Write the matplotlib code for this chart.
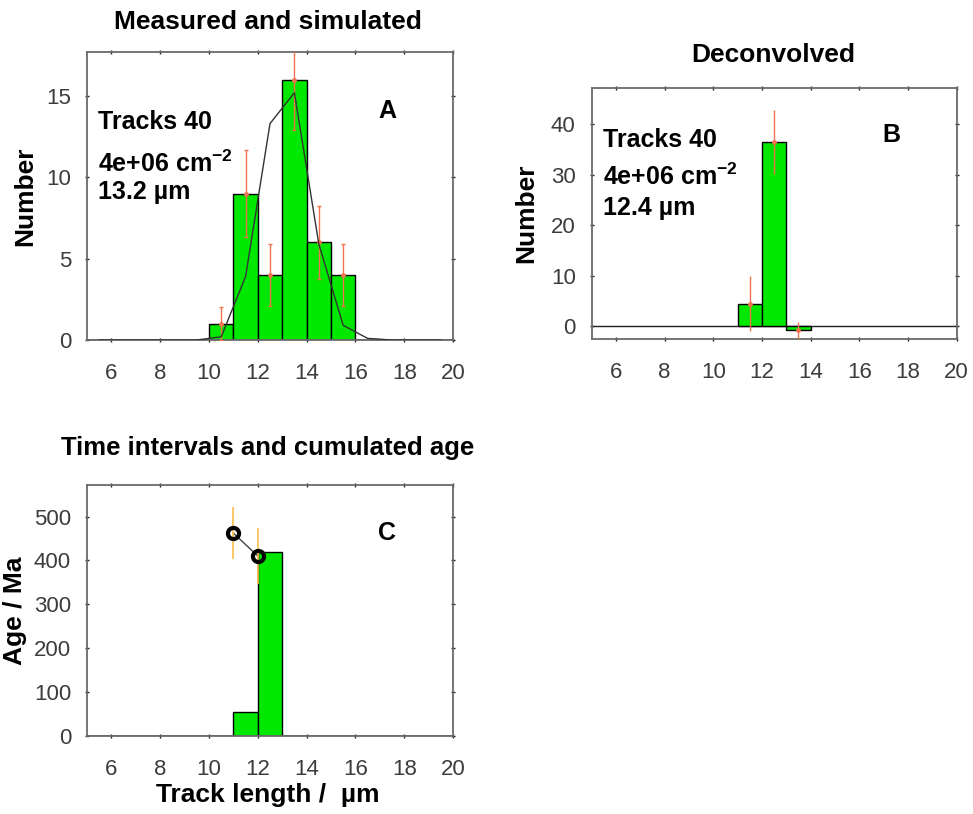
import matplotlib
matplotlib.use("Agg")
import matplotlib.pyplot as plt
import numpy as np

plt.rcParams['font.family'] = ['Liberation Sans', 'DejaVu Sans']
plt.rcParams['mathtext.fontset'] = 'custom'
plt.rcParams['mathtext.rm'] = 'Liberation Sans'
plt.rcParams['mathtext.bf'] = 'Liberation Sans:bold'

# measured length histogram (1 um bins, left edges)
meas_left = [10, 11, 12, 13, 14, 15]
meas_count = [1, 9, 4, 16, 6, 4]
meas_err = [1.0, 2.65, 1.9, 3.1, 2.25, 1.9]

# simulated distribution at bin centres
sim_len = [5.5, 6.5, 7.5, 8.5, 9.5, 10.5, 11.5, 12.5, 13.5, 14.5, 15.5, 16.5, 17.5, 18.5, 19.5]
sim_count = [0, 0, 0, 0, 0, 0.2, 3.9, 13.3, 15.2, 5.9, 0.9, 0.1, 0, 0, 0]

# deconvolved histogram
dec_left = [11, 12, 13]
dec_count = [4.4, 36.5, -0.9]
dec_err = [5.5, 6.4, 1.6]

# time intervals and cumulated age
int_left = [11, 12]
int_age = [53, 420]
cum_len = [11, 12]
cum_age = [462, 410]
cum_err = [59, 63]

info_tracks = "Tracks 40"
info_density = r"4e+06 cm$^{\mathbf{-2}}$"
mean_meas = "13.2 µm"
mean_dec = "12.4 µm"

green = '#00e800'
err_red = '#f2744f'
err_orange = '#fbbf4a'
spine_col = '#6a6a6a'
tick_col = '#3c3c3c'

TICK_FS = 16
LABEL_FS = 19
INFO_FS = 18


def style(ax, ylim, yticks):
    ax.set_xlim(5, 20)
    ax.set_ylim(*ylim)
    ax.set_xticks(np.arange(6, 21, 2))
    ax.set_yticks(yticks)
    ax.tick_params(direction='inout', length=3, width=1, top=True, right=True,
                   labelsize=TICK_FS, labelcolor=tick_col, color='#222222')
    ax.tick_params(axis='x', pad=15)
    ax.tick_params(axis='y', pad=10)
    for s in ax.spines.values():
        s.set_color(spine_col)
        s.set_linewidth(1.3)


def info(ax, x, ys, lines):
    for y, s in zip(ys, lines):
        ax.text(x, y, s, fontsize=INFO_FS, fontweight='bold', va='center')


fig = plt.figure(figsize=(9.73, 8.14), dpi=100)
axA = fig.add_axes([0.0894, 0.5823, 0.3762, 0.3538])
axB = fig.add_axes([0.6081, 0.5835, 0.3751, 0.3084])
axC = fig.add_axes([0.0894, 0.0962, 0.3762, 0.3080])

# A: measured + simulated
axA.bar(meas_left, meas_count, width=1, align='edge', color=green,
        edgecolor='black', linewidth=1, zorder=2)
axA.errorbar(np.array(meas_left) + 0.5, meas_count, yerr=meas_err, fmt='o',
             ms=2.5, color=err_red, elinewidth=1, capsize=1.5, zorder=3)
axA.plot(sim_len, sim_count, color='#333333', lw=1, zorder=4)
axA.axhline(0, color='#555555', lw=1.8, zorder=1)
style(axA, (0, 17.7), [0, 5, 10, 15])
axA.set_ylabel("Number", fontsize=LABEL_FS, fontweight='bold', va='center')
axA.yaxis.set_label_coords(-0.169, 0.5)
info(axA, 5.45, [13.4, 10.8, 9.1], [info_tracks, info_density, mean_meas])
axA.text(17.3, 14.1, "A", fontsize=INFO_FS, fontweight='bold', ha='center', va='center')

# B: deconvolved
axB.bar(dec_left, dec_count, width=1, align='edge', color=green,
        edgecolor='black', linewidth=1, zorder=2)
axB.errorbar(np.array(dec_left) + 0.5, dec_count, yerr=dec_err, fmt='o',
             ms=2.5, color=err_red, elinewidth=1, capsize=0, zorder=3)
axB.axhline(0, color='#222222', lw=1, zorder=1)
style(axB, (-2.6, 47.2), [0, 10, 20, 30, 40])
axB.set_ylabel("Number", fontsize=LABEL_FS, fontweight='bold', va='center')
axB.yaxis.set_label_coords(-0.178, 0.5)
info(axB, 5.45, [36.9, 29.6, 23.4], [info_tracks, info_density, mean_dec])
axB.text(17.3, 37.9, "B", fontsize=INFO_FS, fontweight='bold', ha='center', va='center')

# C: ages
axC.bar(int_left, int_age, width=1, align='edge', color=green,
        edgecolor='black', linewidth=1, zorder=2)
axC.plot(cum_len, cum_age, color='#444444', lw=1, zorder=3)
axC.errorbar(cum_len, cum_age, yerr=cum_err, fmt='none', ecolor=err_orange,
             elinewidth=1.2, zorder=4)
axC.plot(cum_len, cum_age, 'o', ms=8, mfc='none', mec='black', mew=3, zorder=5)
axC.axhline(0, color='#555555', lw=1.8, zorder=1)
style(axC, (0, 572), [0, 100, 200, 300, 400, 500])
axC.set_ylabel("Age / Ma", fontsize=LABEL_FS, fontweight='bold', va='center')
axC.yaxis.set_label_coords(-0.197, 0.5)
axC.set_xlabel("Track length /  µm", fontsize=LABEL_FS, fontweight='bold', va='center')
axC.xaxis.set_label_coords(0.495, -0.236)
axC.text(17.3, 463, "C", fontsize=INFO_FS, fontweight='bold', ha='center', va='center')

fig.text(0.2754, 0.973, "Measured and simulated", fontsize=LABEL_FS,
         fontweight='bold', ha='center', va='center')
fig.text(0.7945, 0.9324, "Deconvolved", fontsize=LABEL_FS, fontweight='bold',
         ha='center', va='center')
fig.text(0.2754, 0.4496, "Time intervals and cumulated age", fontsize=18.5,
         fontweight='bold', ha='center', va='center')

fig.savefig("out.png", dpi=100)
